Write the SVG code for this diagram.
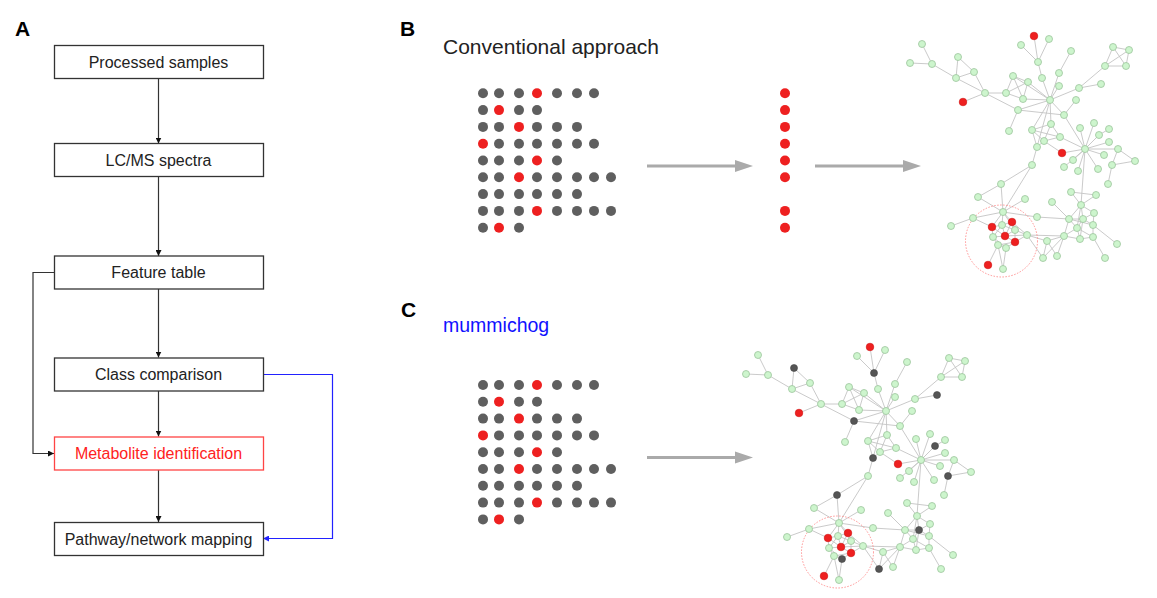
<svg xmlns="http://www.w3.org/2000/svg" xmlns:xlink="http://www.w3.org/1999/xlink" width="1157" height="598" viewBox="0 0 1157 598">
<style>
.box{fill:#fff;stroke:#333;stroke-width:1.3}
.boxred{fill:#fff;stroke:#f44;stroke-width:1.3}
.t{font-family:"Liberation Sans",Arial,sans-serif;font-size:16px;fill:#222;text-anchor:middle}
.lbl{font-family:"Liberation Sans",Arial,sans-serif;font-size:21px;font-weight:bold;fill:#000}
.flow{fill:none;stroke:#333;stroke-width:1.2}
.blue{fill:none;stroke:#22f;stroke-width:1.2}
.dg{fill:#5f5f5f}
.dr{fill:#ee2020}
.big{fill:none;stroke:#aaa;stroke-width:3}
.bighead{fill:#aaa}
.e line{stroke:#c4c4c4;stroke-width:0.9}
.ng circle{fill:#cdf5cd;stroke:#9cc49c;stroke-width:0.8}
.nr circle{fill:#ee2020;stroke:#d01010;stroke-width:0.6}
.varG{fill:#cdf5cd;stroke:#9cc49c;stroke-width:0.8}
.varK{fill:#555;stroke:#444;stroke-width:0.6}
.ring{fill:none;stroke:#f88;stroke-width:0.9;stroke-dasharray:1.5 1.5}
</style>
<defs>
<marker id="ah" viewBox="0 0 6 6" refX="6" refY="3" markerWidth="6" markerHeight="6" markerUnits="userSpaceOnUse" orient="auto"><path d="M0,0 L6,3 L0,6 z" fill="#111"/></marker>
<marker id="ahb" viewBox="0 0 6 6" refX="6" refY="3" markerWidth="6" markerHeight="6" markerUnits="userSpaceOnUse" orient="auto"><path d="M0,0 L6,3 L0,6 z" fill="#22f"/></marker>
<g id="grid">
<g class="dg">
<circle cx="483" cy="93.3" r="5"/><circle cx="499" cy="93.3" r="5"/><circle cx="519" cy="93.3" r="5"/><circle cx="557" cy="93.3" r="5"/><circle cx="577" cy="93.3" r="5"/><circle cx="594" cy="93.3" r="5"/>
<circle cx="483" cy="110.1" r="5"/><circle cx="519" cy="110.1" r="5"/><circle cx="537" cy="110.1" r="5"/>
<circle cx="483" cy="126.9" r="5"/><circle cx="499" cy="126.9" r="5"/><circle cx="537" cy="126.9" r="5"/><circle cx="557" cy="126.9" r="5"/><circle cx="577" cy="126.9" r="5"/>
<circle cx="499" cy="143.7" r="5"/><circle cx="519" cy="143.7" r="5"/><circle cx="537" cy="143.7" r="5"/><circle cx="557" cy="143.7" r="5"/><circle cx="577" cy="143.7" r="5"/><circle cx="594" cy="143.7" r="5"/>
<circle cx="483" cy="160.5" r="5"/><circle cx="499" cy="160.5" r="5"/><circle cx="519" cy="160.5" r="5"/><circle cx="557" cy="160.5" r="5"/>
<circle cx="483" cy="177.3" r="5"/><circle cx="499" cy="177.3" r="5"/><circle cx="537" cy="177.3" r="5"/><circle cx="557" cy="177.3" r="5"/><circle cx="577" cy="177.3" r="5"/><circle cx="594" cy="177.3" r="5"/><circle cx="611" cy="177.3" r="5"/>
<circle cx="483" cy="194.1" r="5"/><circle cx="499" cy="194.1" r="5"/><circle cx="519" cy="194.1" r="5"/><circle cx="537" cy="194.1" r="5"/><circle cx="557" cy="194.1" r="5"/><circle cx="577" cy="194.1" r="5"/>
<circle cx="483" cy="210.9" r="5"/><circle cx="499" cy="210.9" r="5"/><circle cx="519" cy="210.9" r="5"/><circle cx="557" cy="210.9" r="5"/><circle cx="577" cy="210.9" r="5"/><circle cx="594" cy="210.9" r="5"/><circle cx="611" cy="210.9" r="5"/>
<circle cx="483" cy="227.7" r="5"/><circle cx="519" cy="227.7" r="5"/>
</g>
<g class="dr">
<circle cx="537" cy="93.3" r="5"/><circle cx="499" cy="110.1" r="5"/><circle cx="519" cy="126.9" r="5"/><circle cx="483" cy="143.7" r="5"/><circle cx="537" cy="160.5" r="5"/><circle cx="519" cy="177.3" r="5"/><circle cx="537" cy="210.9" r="5"/><circle cx="499" cy="227.7" r="5"/>
</g>
</g>
<g id="netEdges" class="e">
<line x1="1034" y1="36" x2="1038" y2="62"/><line x1="1049" y1="39" x2="1038" y2="62"/><line x1="1021" y1="45" x2="1038" y2="62"/><line x1="1038" y1="62" x2="1042" y2="78"/><line x1="1042" y1="78" x2="1050" y2="100"/>
<line x1="1071" y1="51" x2="1059" y2="73"/><line x1="1059" y1="73" x2="1050" y2="100"/>
<line x1="922" y1="44" x2="932" y2="64"/><line x1="910" y1="63" x2="932" y2="64"/><line x1="932" y1="64" x2="956" y2="78"/>
<line x1="958" y1="57" x2="956" y2="78"/><line x1="958" y1="57" x2="974" y2="72"/><line x1="974" y1="72" x2="956" y2="78"/><line x1="956" y1="78" x2="985" y2="93"/><line x1="974" y1="72" x2="985" y2="93"/>
<line x1="963" y1="102" x2="985" y2="93"/><line x1="985" y1="93" x2="1006" y2="93"/><line x1="985" y1="93" x2="1018" y2="110"/>
<line x1="1013" y1="76" x2="1028" y2="82"/><line x1="1013" y1="76" x2="1006" y2="93"/><line x1="1013" y1="76" x2="1023" y2="99"/><line x1="1028" y1="82" x2="1023" y2="99"/><line x1="1006" y1="93" x2="1023" y2="99"/><line x1="1028" y1="82" x2="1006" y2="93"/>
<line x1="1023" y1="99" x2="1050" y2="100"/><line x1="1028" y1="82" x2="1050" y2="100"/><line x1="1013" y1="76" x2="1050" y2="100"/>
<line x1="1059" y1="86" x2="1050" y2="100"/><line x1="1079" y1="88" x2="1050" y2="100"/><line x1="1079" y1="88" x2="1101" y2="84"/><line x1="1079" y1="88" x2="1105" y2="66"/>
<line x1="1113" y1="47" x2="1129" y2="50"/><line x1="1113" y1="47" x2="1105" y2="66"/><line x1="1113" y1="47" x2="1126" y2="66"/><line x1="1129" y1="50" x2="1126" y2="66"/><line x1="1105" y1="66" x2="1126" y2="66"/><line x1="1129" y1="50" x2="1105" y2="66"/>
<line x1="1076" y1="100" x2="1064" y2="115"/><line x1="1050" y1="100" x2="1064" y2="115"/>
<line x1="1018" y1="110" x2="1064" y2="115"/><line x1="1018" y1="110" x2="1050" y2="100"/><line x1="1018" y1="110" x2="1009" y2="131"/>
<line x1="1050" y1="100" x2="1032" y2="130"/><line x1="1050" y1="100" x2="1037" y2="147"/><line x1="1050" y1="100" x2="1051" y2="124"/>
<line x1="1064" y1="115" x2="1085" y2="149"/>
<line x1="1032" y1="130" x2="1051" y2="124"/><line x1="1032" y1="130" x2="1060" y2="137"/><line x1="1032" y1="130" x2="1044" y2="141"/><line x1="1051" y1="124" x2="1060" y2="137"/><line x1="1060" y1="137" x2="1044" y2="141"/><line x1="1044" y1="141" x2="1037" y2="147"/><line x1="1051" y1="124" x2="1044" y2="141"/><line x1="1032" y1="130" x2="1037" y2="147"/>
<line x1="1060" y1="137" x2="1085" y2="149"/><line x1="1062" y1="153" x2="1085" y2="149"/><line x1="1062" y1="153" x2="1044" y2="141"/>
<line x1="1080" y1="128" x2="1085" y2="149"/><line x1="1094" y1="123" x2="1085" y2="149"/><line x1="1099" y1="135" x2="1085" y2="149"/><line x1="1109" y1="129" x2="1099" y2="135"/>
<line x1="1109" y1="142" x2="1085" y2="149"/><line x1="1104" y1="155" x2="1085" y2="149"/><line x1="1073" y1="160" x2="1085" y2="149"/><line x1="1064" y1="167" x2="1085" y2="149"/><line x1="1078" y1="171" x2="1085" y2="149"/><line x1="1098" y1="169" x2="1085" y2="149"/><line x1="1118" y1="149" x2="1085" y2="149"/>
<line x1="1118" y1="149" x2="1112" y2="165"/><line x1="1112" y1="165" x2="1135" y2="161"/><line x1="1112" y1="165" x2="1108" y2="184"/><line x1="1118" y1="149" x2="1135" y2="161"/>
<line x1="1085" y1="149" x2="1081" y2="205"/>
<line x1="1037" y1="147" x2="1032" y2="165"/><line x1="1032" y1="165" x2="1001" y2="184"/><line x1="1032" y1="165" x2="1003" y2="212"/>
<line x1="1001" y1="184" x2="978" y2="197"/><line x1="1001" y1="184" x2="1003" y2="212"/><line x1="978" y1="197" x2="1003" y2="212"/><line x1="1025" y1="199" x2="1003" y2="212"/>
<line x1="1003" y1="212" x2="973" y2="218"/><line x1="973" y1="218" x2="951" y2="226"/><line x1="973" y1="218" x2="992" y2="227"/><line x1="1003" y1="212" x2="1037" y2="217"/><line x1="1037" y1="217" x2="1069" y2="219"/>
<line x1="1003" y1="212" x2="1012" y2="222"/><line x1="1003" y1="212" x2="1002" y2="225"/><line x1="1003" y1="212" x2="1015" y2="230"/><line x1="1003" y1="212" x2="992" y2="227"/>
<line x1="1012" y1="222" x2="1002" y2="225"/><line x1="1012" y1="222" x2="1015" y2="230"/><line x1="1012" y1="222" x2="1005" y2="236"/><line x1="992" y1="227" x2="1002" y2="225"/><line x1="992" y1="227" x2="993" y2="237"/><line x1="1002" y1="225" x2="1005" y2="236"/><line x1="1002" y1="225" x2="1015" y2="230"/><line x1="1015" y1="230" x2="1005" y2="236"/><line x1="1015" y1="230" x2="1027" y2="235"/><line x1="1005" y1="236" x2="993" y2="237"/><line x1="1005" y1="236" x2="1015" y2="242"/><line x1="993" y1="237" x2="998" y2="245"/><line x1="1015" y1="242" x2="998" y2="245"/><line x1="1015" y1="242" x2="1006" y2="248"/><line x1="998" y1="245" x2="1006" y2="248"/><line x1="1002" y1="225" x2="993" y2="237"/><line x1="1012" y1="222" x2="1027" y2="235"/><line x1="1005" y1="236" x2="1027" y2="235"/><line x1="1015" y1="242" x2="1027" y2="235"/><line x1="992" y1="227" x2="1005" y2="236"/><line x1="1015" y1="230" x2="1015" y2="242"/><line x1="993" y1="237" x2="1006" y2="248"/>
<line x1="988" y1="265" x2="998" y2="245"/><line x1="1003" y1="269" x2="1006" y2="248"/><line x1="1003" y1="269" x2="998" y2="245"/>
<line x1="1027" y1="235" x2="1047" y2="241"/><line x1="1027" y1="235" x2="1064" y2="236"/><line x1="1027" y1="235" x2="1043" y2="258"/><line x1="1047" y1="241" x2="1043" y2="258"/><line x1="1047" y1="241" x2="1057" y2="256"/><line x1="1064" y1="236" x2="1043" y2="258"/><line x1="1064" y1="236" x2="1057" y2="256"/><line x1="1047" y1="241" x2="1064" y2="236"/>
<line x1="1064" y1="236" x2="1069" y2="219"/><line x1="1052" y1="202" x2="1069" y2="219"/><line x1="1071" y1="192" x2="1081" y2="205"/><line x1="1096" y1="195" x2="1081" y2="205"/><line x1="1071" y1="192" x2="1096" y2="195"/>
<line x1="1081" y1="205" x2="1069" y2="219"/><line x1="1081" y1="205" x2="1094" y2="213"/><line x1="1081" y1="205" x2="1083" y2="219"/><line x1="1081" y1="205" x2="1077" y2="228"/><line x1="1094" y1="213" x2="1083" y2="219"/><line x1="1094" y1="213" x2="1093" y2="225"/><line x1="1069" y1="219" x2="1083" y2="219"/><line x1="1069" y1="219" x2="1077" y2="228"/><line x1="1083" y1="219" x2="1077" y2="228"/><line x1="1083" y1="219" x2="1093" y2="225"/><line x1="1083" y1="219" x2="1080" y2="239"/><line x1="1077" y1="228" x2="1080" y2="239"/><line x1="1077" y1="228" x2="1093" y2="237"/><line x1="1093" y1="225" x2="1093" y2="237"/><line x1="1064" y1="236" x2="1080" y2="239"/><line x1="1080" y1="239" x2="1093" y2="237"/><line x1="1077" y1="228" x2="1064" y2="236"/><line x1="1069" y1="219" x2="1093" y2="225"/>
<line x1="1093" y1="237" x2="1105" y2="258"/><line x1="1093" y1="225" x2="1117" y2="244"/>
</g>
<g id="netGreen" class="ng">
<circle cx="1049" cy="39" r="3.5"/><circle cx="1021" cy="45" r="3.5"/><circle cx="1071" cy="51" r="3.5"/><circle cx="922" cy="44" r="3.5"/><circle cx="910" cy="63" r="3.5"/><circle cx="932" cy="64" r="3.5"/><circle cx="974" cy="72" r="3.5"/><circle cx="956" cy="78" r="3.5"/>
<circle cx="1113" cy="47" r="3.5"/><circle cx="1129" cy="50" r="3.5"/><circle cx="1105" cy="66" r="3.5"/><circle cx="1126" cy="66" r="3.5"/>
<circle cx="1013" cy="76" r="3.5"/><circle cx="1028" cy="82" r="3.5"/><circle cx="1042" cy="78" r="3.5"/><circle cx="1059" cy="73" r="3.5"/><circle cx="1059" cy="86" r="3.5"/><circle cx="1079" cy="88" r="3.5"/>
<circle cx="985" cy="93" r="3.5"/><circle cx="1006" cy="93" r="3.5"/><circle cx="1023" cy="99" r="3.5"/><circle cx="1050" cy="100" r="3.5"/><circle cx="1076" cy="100" r="3.5"/><circle cx="1064" cy="115" r="3.5"/>
<circle cx="1009" cy="131" r="3.5"/><circle cx="1032" cy="130" r="3.5"/><circle cx="1051" cy="124" r="3.5"/><circle cx="1080" cy="128" r="3.5"/><circle cx="1094" cy="123" r="3.5"/><circle cx="1109" cy="129" r="3.5"/><circle cx="1060" cy="137" r="3.5"/><circle cx="1044" cy="141" r="3.5"/>
<circle cx="1085" cy="149" r="3.5"/><circle cx="1109" cy="142" r="3.5"/><circle cx="1118" cy="149" r="3.5"/><circle cx="1073" cy="160" r="3.5"/><circle cx="1064" cy="167" r="3.5"/><circle cx="1078" cy="171" r="3.5"/><circle cx="1098" cy="169" r="3.5"/><circle cx="1104" cy="155" r="3.5"/><circle cx="1135" cy="161" r="3.5"/><circle cx="1108" cy="184" r="3.5"/>
<circle cx="1032" cy="165" r="3.5"/><circle cx="978" cy="197" r="3.5"/><circle cx="1025" cy="199" r="3.5"/><circle cx="1003" cy="212" r="3.5"/><circle cx="973" cy="218" r="3.5"/><circle cx="951" cy="226" r="3.5"/>
<circle cx="1002" cy="225" r="3.5"/><circle cx="1015" cy="230" r="3.5"/><circle cx="993" cy="237" r="3.5"/><circle cx="1027" cy="235" r="3.5"/><circle cx="998" cy="245" r="3.5"/><circle cx="1003" cy="269" r="3.5"/>
<circle cx="1037" cy="217" r="3.5"/><circle cx="1052" cy="202" r="3.5"/><circle cx="1071" cy="192" r="3.5"/><circle cx="1096" cy="195" r="3.5"/><circle cx="1081" cy="205" r="3.5"/><circle cx="1094" cy="213" r="3.5"/><circle cx="1069" cy="219" r="3.5"/><circle cx="1077" cy="228" r="3.5"/><circle cx="1093" cy="225" r="3.5"/><circle cx="1064" cy="236" r="3.5"/><circle cx="1080" cy="239" r="3.5"/><circle cx="1093" cy="237" r="3.5"/><circle cx="1047" cy="241" r="3.5"/><circle cx="1057" cy="256" r="3.5"/><circle cx="1117" cy="244" r="3.5"/><circle cx="1105" cy="258" r="3.5"/>
</g>
<g id="netRed" class="nr">
<circle cx="1034" cy="36" r="3.8"/><circle cx="963" cy="102" r="3.8"/><circle cx="1062" cy="153" r="3.8"/><circle cx="1012" cy="222" r="3.8"/><circle cx="992" cy="227" r="3.8"/><circle cx="1005" cy="236" r="3.8"/><circle cx="1015" cy="242" r="3.8"/><circle cx="988" cy="265" r="3.8"/>
</g>
<g id="netVar">
<circle cx="958" cy="57" r="3.5"/><circle cx="1038" cy="62" r="3.5"/><circle cx="1101" cy="84" r="3.5"/><circle cx="1018" cy="110" r="3.5"/><circle cx="1099" cy="135" r="3.5"/><circle cx="1037" cy="147" r="3.5"/><circle cx="1112" cy="165" r="3.5"/><circle cx="1001" cy="184" r="3.5"/><circle cx="1083" cy="219" r="3.5"/><circle cx="1006" cy="248" r="3.5"/><circle cx="1043" cy="258" r="3.5"/>
</g>
</defs>

<g id="panelA">
<text class="lbl" x="15" y="36">A</text>
<g id="connectors">
<line class="flow" x1="158.5" y1="78" x2="158.5" y2="143.5" marker-end="url(#ah)"/>
<line class="flow" x1="158.5" y1="177" x2="158.5" y2="256" marker-end="url(#ah)"/>
<line class="flow" x1="158.5" y1="289" x2="158.5" y2="357.5" marker-end="url(#ah)"/>
<line class="flow" x1="158.5" y1="391" x2="158.5" y2="436.5" marker-end="url(#ah)"/>
<line class="flow" x1="158.5" y1="470" x2="158.5" y2="522" marker-end="url(#ah)"/>
<polyline class="flow" points="54,272.5 33,272.5 33,453.5 54,453.5" marker-end="url(#ah)"/>
<polyline class="blue" points="263,374.5 332.5,374.5 332.5,538.5 263,538.5" marker-end="url(#ahb)"/>
</g>
<g id="n-processed"><rect class="box" x="54.5" y="45.5" width="209" height="33"/><text class="t" x="158.5" y="67.5">Processed samples</text></g>
<g id="n-lcms"><rect class="box" x="54.5" y="143.5" width="209" height="33"/><text class="t" x="158.5" y="165.5">LC/MS spectra</text></g>
<g id="n-feature"><rect class="box" x="54.5" y="256" width="209" height="33"/><text class="t" x="158.5" y="278">Feature table</text></g>
<g id="n-class"><rect class="box" x="54.5" y="358" width="209" height="33"/><text class="t" x="158.5" y="380">Class comparison</text></g>
<g id="n-metab"><rect class="boxred" x="54.5" y="437" width="209" height="33"/><text class="t" x="158.5" y="459" style="fill:#f22">Metabolite identification</text></g>
<g id="n-pathway"><rect class="box" x="54.5" y="522.5" width="209" height="33"/><text class="t" x="158.5" y="544.5">Pathway/network mapping</text></g>
</g>

<g id="panelB">
<text class="lbl" x="400" y="36">B</text>
<text x="443" y="54" style="font-family:'Liberation Sans',Arial,sans-serif;font-size:21px;fill:#222">Conventional approach</text>
<use href="#grid"/>
<g class="dr">
<circle cx="785" cy="93.3" r="5"/><circle cx="785" cy="110.1" r="5"/><circle cx="785" cy="126.9" r="5"/><circle cx="785" cy="143.7" r="5"/><circle cx="785" cy="160.5" r="5"/><circle cx="785" cy="177.3" r="5"/><circle cx="785" cy="210.9" r="5"/><circle cx="785" cy="227.7" r="5"/>
</g>
<line class="big" x1="647" y1="166" x2="736" y2="166"/><path class="bighead" d="M735,160 L753,166 L735,172 z"/>
<line class="big" x1="815" y1="166" x2="904" y2="166"/><path class="bighead" d="M903,160 L921,166 L903,172 z"/>
<g id="networkB">
<use href="#netEdges"/>
<circle class="ring" cx="1001.5" cy="241" r="36"/>
<use href="#netGreen"/>
<use href="#netVar" class="varG"/>
<use href="#netRed"/>
</g>
</g>

<g id="panelC">
<text class="lbl" x="401" y="317">C</text>
<text x="443" y="332" style="font-family:'Liberation Sans',Arial,sans-serif;font-size:19.5px;fill:#11f">mummichog</text>
<use href="#grid" transform="translate(0,291.7)"/>
<line class="big" x1="647" y1="457.5" x2="736" y2="457.5"/><path class="bighead" d="M735,451.5 L753,457.5 L735,463.5 z"/>
<g id="networkC" transform="translate(-164,311)">
<use href="#netEdges"/>
<circle class="ring" cx="1001.5" cy="241" r="36"/>
<use href="#netGreen"/>
<use href="#netVar" class="varK"/>
<use href="#netRed"/>
</g>
</g>
</svg>
